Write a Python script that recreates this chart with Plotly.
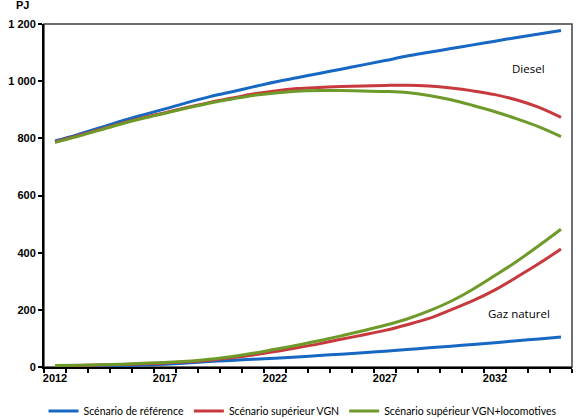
import plotly.graph_objects as go

years = list(range(2012, 2036))

# Diesel (PJ)
diesel_ref = [791, 812, 836, 860, 882, 903, 925, 945, 962, 980, 997, 1012,
              1027, 1042, 1057, 1072, 1088, 1101, 1114, 1127, 1140, 1153, 1165, 1177]
diesel_vgn = [787, 808, 830, 852, 872, 890, 908, 925, 940, 955, 966, 974,
              978, 981, 983, 985, 986, 983, 976, 966, 953, 934, 908, 873]
diesel_loco = [786, 806, 828, 850, 870, 888, 906, 923, 937, 950, 959, 965,
               967, 967, 966, 964, 960, 950, 935, 915, 893, 868, 840, 806]

# Gaz naturel (PJ)
gas_ref = [1, 2, 3, 5, 7, 10, 14, 19, 23, 27, 31, 35,
           40, 45, 50, 55, 61, 67, 73, 79, 85, 92, 98, 105]
gas_vgn = [4, 5, 7, 9, 11, 14, 18, 24, 32, 42, 54, 67,
           81, 97, 112, 128, 148, 170, 200, 232, 270, 315, 362, 413]
gas_loco = [5, 6, 8, 10, 13, 16, 20, 27, 36, 48, 62, 76,
            92, 109, 127, 146, 168, 196, 230, 272, 320, 370, 425, 482]

names = ["Scénario de référence", "Scénario supérieur VGN",
         "Scénario supérieur VGN+locomotives"]
colors = ["#1668c2", "#c8393e", "#6e9a2a"]

fig = go.Figure()
for name, color, d, g in zip(names, colors,
                             [diesel_ref, diesel_vgn, diesel_loco],
                             [gas_ref, gas_vgn, gas_loco]):
    fig.add_trace(go.Scatter(x=years, y=d, name=name, mode="lines",
                             line=dict(color=color, width=3, shape="spline"),
                             legendgroup=name))
    fig.add_trace(go.Scatter(x=years, y=g, name=name, mode="lines",
                             line=dict(color=color, width=3, shape="spline"),
                             legendgroup=name, showlegend=False))

tick_font = dict(family="Liberation Sans, Arial", size=11, color="black", weight="bold")

fig.update_layout(
    width=580, height=419,
    margin=dict(l=42, r=8, t=24, b=52),
    plot_bgcolor="white", paper_bgcolor="white",
    separators=", ",
    showlegend=True,
    legend=dict(orientation="h", xref="container", yref="container",
                x=0.075, xanchor="left", y=0.019, yanchor="middle",
                font=dict(family="Lato", size=10.5, color="black"),
                itemwidth=30, tracegroupgap=0),
    xaxis=dict(range=[2011.5, 2035.5], tickvals=[2012, 2017, 2022, 2027, 2032],
               ticks="", showgrid=False, zeroline=False,
               showline=True, linecolor="black", linewidth=2,
               tickfont=tick_font,
               minor=dict(tick0=2011.5, dtick=1, ticks="outside", ticklen=4,
                          tickwidth=2, tickcolor="black", showgrid=False)),
    yaxis=dict(range=[0, 1200], dtick=200, tickformat=",.0f",
               ticks="outside", ticklen=4, tickwidth=2, tickcolor="black",
               showgrid=False, zeroline=False,
               showline=True, linecolor="black", linewidth=2,
               tickfont=tick_font),
    shapes=[dict(type="rect", xref="paper", yref="paper", x0=0, y0=0, x1=1, y1=1,
                 line=dict(color="#404040", width=1.5), layer="below")],
    annotations=[
        dict(text="<b>PJ</b>", xref="paper", yref="paper", x=-0.0415, y=1.055,
             showarrow=False, xanchor="center", yanchor="middle",
             font=dict(family="Liberation Sans, Arial", size=11, color="black")),
        dict(text="Diesel", xref="paper", yref="paper", x=0.917, y=0.87,
             showarrow=False, xanchor="center", yanchor="middle",
             font=dict(family="Open Sans", size=11.5, color="black")),
        dict(text="Gaz naturel", xref="paper", yref="paper", x=0.9, y=0.157,
             showarrow=False, xanchor="center", yanchor="middle",
             font=dict(family="Open Sans", size=11.5, color="black")),
    ],
)

# drop the browser's default 8px body margin so the figure fills the window
fig.write_html("out.html", config={"displayModeBar": False},
               post_script="document.body.style.margin = '0';")
